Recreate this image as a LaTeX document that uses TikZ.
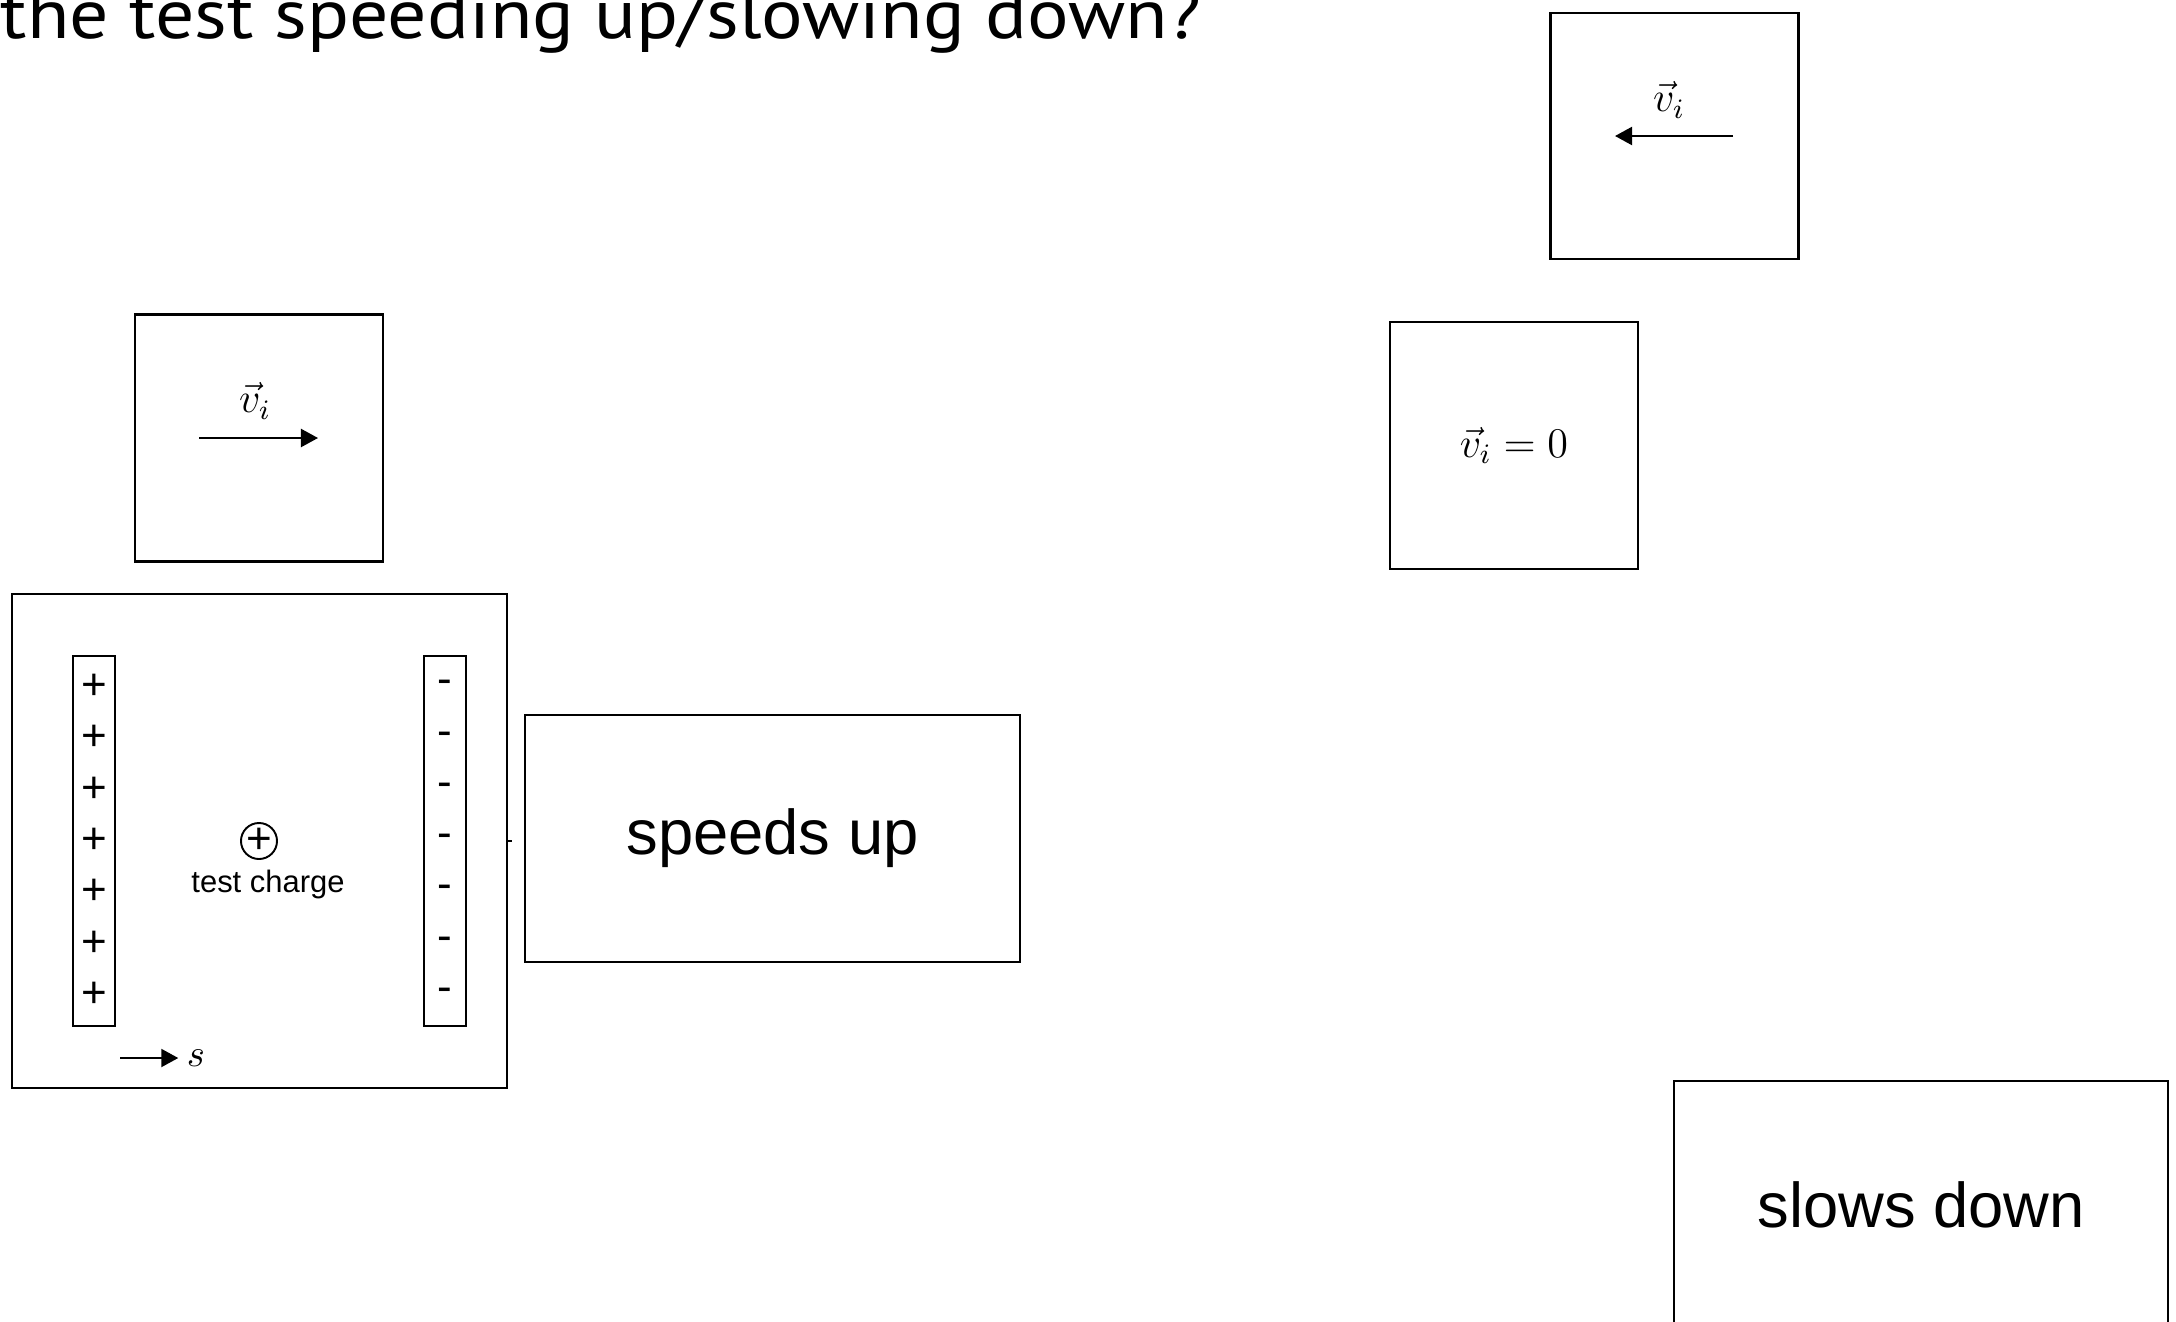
\documentclass[tikz,border=0pt]{standalone}
\usepackage[no-math]{fontspec}
\usepackage{graphicx}
\newfontfamily\helv{Liberation Sans}
\newfontfamily\ttlfont{PT Sans}
\usetikzlibrary{arrows.meta}
\begin{document}
\begin{tikzpicture}[x=0.01cm,y=-0.01cm,
  vbox/.style={draw, line width=0.7pt, minimum width=2.48cm, minimum height=2.47cm, inner sep=0},
  bigbox/.style={draw, line width=0.75pt, inner sep=0},
  plate/.style={draw, line width=0.6pt, minimum width=0.42cm, minimum height=3.70cm, inner sep=0},
  sign/.style={font=\helv\fontsize{12.5}{14}\selectfont, inner sep=0},
  vlab/.style={font=\fontsize{12}{14}\selectfont, inner sep=0},
  vel/.style={line width=0.6pt, -{Triangle[length=1.7mm,width=1.8mm]}},
  biglab/.style={font=\helv\fontsize{18}{21}\selectfont, inner sep=0}]
\clip (0,0) rectangle (2176,1321);
\fill[white] (0,0) rectangle (2176,1321);

% title (cut at the top)
\node[anchor=base west, inner sep=0] (title) at (0,38)
  {\resizebox{12.0cm}{\height}{\ttlfont\fontsize{19.9}{24}\selectfont the test speeding up/slowing down?}};

% velocity boxes
\node[vbox] (boxR) at (259,438) {};
\coordinate (aR0) at (199,438);
\coordinate (aR1) at (318,438);
\draw[vel] (aR0) -- (aR1);
\node[vlab] (labR) at (255,401) {$\vec{v}_i$};

\node[vbox, minimum height=2.46cm] (boxL) at (1674.5,136) {};
\coordinate (aL0) at (1733,136);
\coordinate (aL1) at (1615,136);
\draw[vel] (aL0) -- (aL1);
\node[vlab] (labL) at (1669,100) {$\vec{v}_i$};

\node[vbox] (box0) at (1514,445.5) {};
\node[vlab] (lab0) at (1514,445.5) {$\vec{v}_i = 0$};

% capacitor
\node[bigbox, minimum width=4.95cm, minimum height=4.94cm] (cap) at (259.5,841) {};
\draw[line width=0.6pt] (cap.east) -- ++(4,0);
\node[plate] (pplate) at (94,841) {};
\node[plate] (mplate) at (445,841) {};
\foreach \k in {0,...,6} {
  \node[sign] (p\k) at (94,{687+51.3*\k}) {+};
  \node[sign] (m\k) at (445,{687+51.3*\k}) {-};
}
\node[draw, circle, minimum size=0.36cm, inner sep=0, line width=0.55pt] (tc) at (259,841) {};
\node[sign] (tcplus) at (tc) {+};
\node[anchor=base, inner sep=0, font=\helv\fontsize{8.8}{10}\selectfont] (tclab) at (268,892) {test charge};
\coordinate (s0) at (120,1058);
\node[inner sep=0.08cm, font=\fontsize{11}{13}\selectfont] (slab) at (196,1058) {$s$};
\draw[vel] (s0) -- (slab);

% answer boxes
\node[bigbox, minimum width=4.95cm, minimum height=2.47cm] (speeds) at (772.5,838.5) {};
\node[biglab] (speedslab) at (speeds) {speeds up};
\node[bigbox, minimum width=4.94cm, minimum height=2.47cm] (slows) at (1921,1204.5) {};
\node[biglab] (slowslab) at (slows) {slows down};
\end{tikzpicture}
\end{document}
